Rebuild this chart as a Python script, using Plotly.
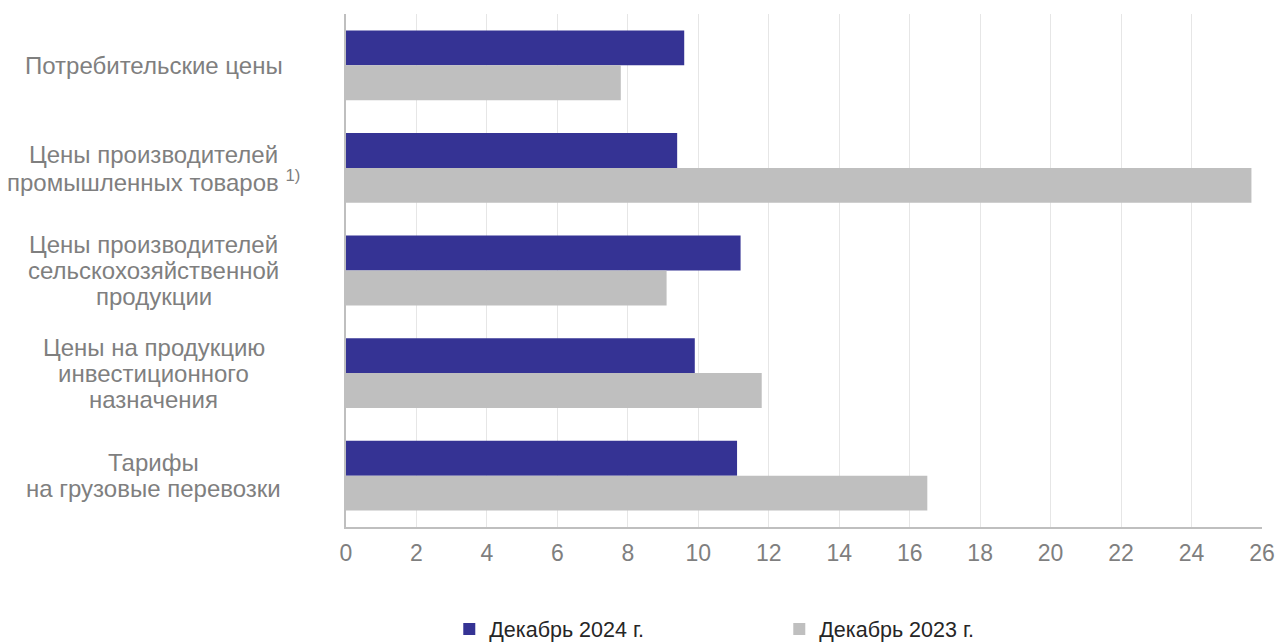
import plotly.graph_objects as go

categories = [
    "Потребительские цены",
    "Цены производителей<br>промышленных товаров <sup>1)</sup>",
    "Цены производителей<br>сельскохозяйственной<br>продукции",
    "Цены на продукцию<br>инвестиционного<br>назначения",
    "Тарифы<br>на грузовые перевозки",
]
keys = ["c1", "c2", "c3", "c4", "c5"]
series_names = ["Декабрь 2024 г.", "Декабрь 2023 г."]
dec2024 = [9.6, 9.4, 11.2, 9.9, 11.1]
dec2023 = [7.8, 25.7, 9.1, 11.8, 16.5]
x_ticks = list(range(0, 27, 2))

BLUE = "#353394"
GREY = "#BFBFBF"
FONT = "Liberation Sans, Arial, sans-serif"
LINE_H = 26

fig = go.Figure()
fig.add_trace(go.Bar(y=keys, x=dec2024, orientation="h", name=series_names[0],
                     marker=dict(color=BLUE, line=dict(width=0))))
fig.add_trace(go.Bar(y=keys, x=dec2023, orientation="h", name=series_names[1],
                     marker=dict(color=GREY, line=dict(width=0))))

annotations = []
for k, lab in zip(keys, categories):
    lines = lab.split("<br>")
    n = len(lines)
    for i, ln in enumerate(lines):
        annotations.append(dict(
            x=-0.21, xref="paper", y=k, yref="y", text=ln, showarrow=False,
            xanchor="center", yanchor="middle", align="center",
            yshift=((n - 1) / 2 - i) * LINE_H,
            font=dict(family=FONT, size=24, color="#7F7F7F")))

fig.update_layout(
    width=1280, height=644,
    margin=dict(l=346, r=18, t=14, b=117, autoexpand=False),
    paper_bgcolor="white", plot_bgcolor="white",
    barmode="group", bargap=0.32, bargroupgap=0,
    font=dict(family=FONT, size=20, color="#7F7F7F"),
    xaxis=dict(range=[0, 26], tickvals=x_ticks, showgrid=True, gridcolor="#E6E6E6",
               gridwidth=1, zeroline=False, showline=True, linecolor="#BFBFBF",
               linewidth=2, ticks="", tickfont=dict(size=23, color="#7F7F7F"),
               ticklabelstandoff=4, fixedrange=True),
    yaxis=dict(autorange="reversed", showticklabels=False, showgrid=False,
               zeroline=False, showline=True, linecolor="#BFBFBF", linewidth=2,
               ticks="", fixedrange=True),
    legend=dict(orientation="h", xref="container", yref="container",
                x=0.351, xanchor="left", y=0.0233, yanchor="middle",
                font=dict(family=FONT, size=21.5, color="#262626"),
                entrywidth=285, entrywidthmode="pixels", traceorder="normal",
                itemclick=False, itemdoubleclick=False),
    annotations=annotations,
    showlegend=True,
)

post = "document.body.style.margin='0';document.body.style.overflow='hidden';"
fig.write_html("out.html", post_script=post, config={"displayModeBar": False})
